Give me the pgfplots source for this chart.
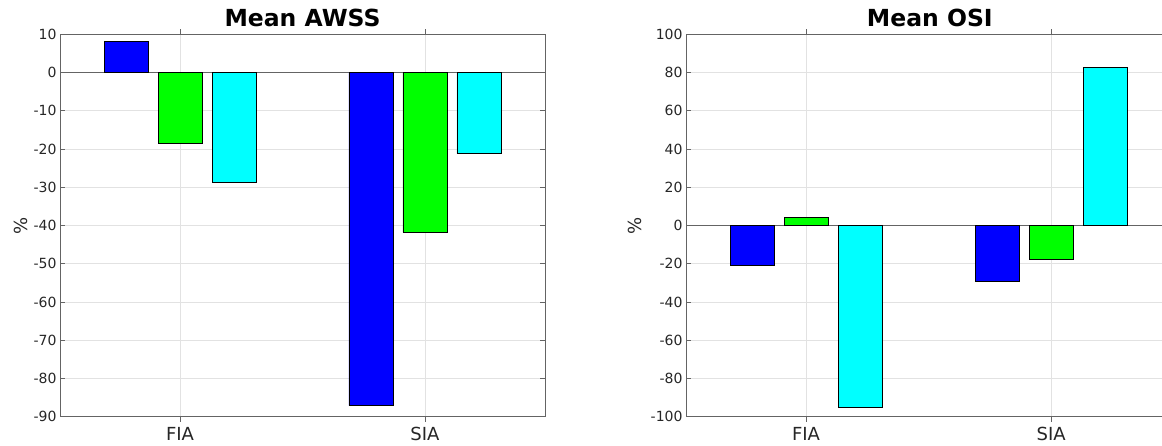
\documentclass[border=0pt]{standalone}
\usepackage{fontspec}
\setmainfont{DejaVu Sans}
\usepackage{pgfplots}
\pgfplotsset{compat=1.18}
\definecolor{tickgray}{RGB}{38,38,38}
\definecolor{gridgray}{RGB}{226,226,226}
\definecolor{axgray}{RGB}{100,100,100}
\definecolor{mblue}{RGB}{0,0,255}
\definecolor{mgreen}{RGB}{0,255,0}
\definecolor{mcyan}{RGB}{0,255,255}

\pgfplotsset{
  mystyle/.style={
    scale only axis,
    anchor=south west,
    xtick={1,2}, xticklabels={FIA,SIA},
    ybar=10pt, bar width=44pt,
    grid=major, major grid style={gridgray, line width=0.6pt},
    axis line style={axgray, line width=0.6pt},
    tick style={axgray, line width=0.6pt},
    major tick length=5pt,
    ticklabel style={text=tickgray},
    yticklabel style={font=\fontsize{14}{16}\selectfont},
    xticklabel style={font=\fontsize{18}{20}\selectfont, yshift=-2pt},
    /pgf/number format/assume math mode=true,
    title style={font=\fontsize{23.5}{26}\selectfont\bfseries, at={(axis description cs:0.5,1)}, anchor=base, yshift=1.5pt},
    ylabel={\%},
    ylabel style={font=\fontsize{18}{20}\selectfont, text=tickgray, anchor=center},
    extra y ticks={0}, extra y tick labels={},
    extra y tick style={grid=major, major grid style={axgray, line width=0.6pt}},
    every axis plot/.append style={draw=black, line width=0.5pt},
  }
}

\begin{document}
\begin{tikzpicture}
\useasboundingbox (0,0) rectangle (1162pt,445pt);
\clip (0,0) rectangle (1162pt,445pt);
\begin{axis}[mystyle, at={(60pt,28.3pt)}, width=485pt, height=382.4pt,
  xmin=0.51, xmax=2.49, ymin=-90, ymax=10, ytick={-90,-80,...,10},
  title={Mean AWSS},
  ylabel style={at={(axis description cs:-0.0804,0.5)}}]
\addplot[fill=mblue] coordinates {(1,8.1) (2,-87.1)};
\addplot[fill=mgreen] coordinates {(1,-18.5) (2,-41.8)};
\addplot[fill=mcyan] coordinates {(1,-28.8) (2,-21.2)};
\end{axis}
\begin{axis}[mystyle, at={(686pt,28.3pt)}, width=487.6pt, height=382.4pt,
  xmin=0.51, xmax=2.5, ymin=-100, ymax=100, ytick={-100,-80,...,100},
  title={Mean OSI},
  ylabel style={at={(axis description cs:-0.1056,0.5)}}]
\addplot[fill=mblue] coordinates {(1,-20.8) (2,-29)};
\addplot[fill=mgreen] coordinates {(1,4.4) (2,-17.9)};
\addplot[fill=mcyan] coordinates {(1,-95) (2,82.8)};
\end{axis}
\end{tikzpicture}
\end{document}
